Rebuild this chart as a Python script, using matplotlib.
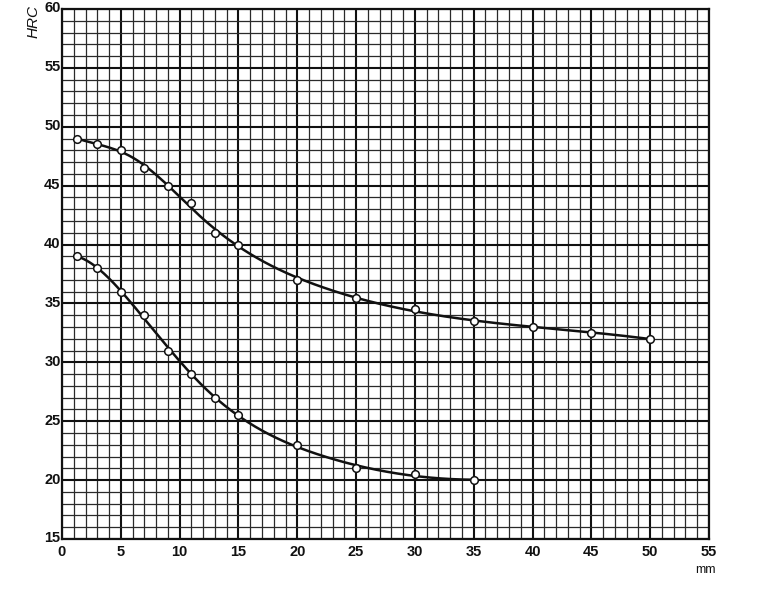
import numpy as np
import matplotlib
matplotlib.use('Agg')
import matplotlib.pyplot as plt
import matplotlib.transforms as mtransforms
from matplotlib.ticker import MultipleLocator

# data (depth in mm, hardness HRC)
x_upper = [1.3, 3, 5, 7, 9, 11, 13, 15, 20, 25, 30, 35, 40, 45, 50]
hrc_upper = [49.0, 48.5, 48.0, 46.5, 45.0, 43.5, 41.0, 40.0, 37.0, 35.5, 34.5, 33.5, 33.0, 32.5, 32.0]

x_lower = [1.3, 3, 5, 7, 9, 11, 13, 15, 20, 25, 30, 35]
hrc_lower = [39.0, 38.0, 36.0, 34.0, 31.0, 29.0, 27.0, 25.5, 23.0, 21.0, 20.5, 20.0]

x_ticks = [0, 5, 10, 15, 20, 25, 30, 35, 40, 45, 50, 55]
y_ticks = [15, 20, 25, 30, 35, 40, 45, 50, 55, 60]

plt.rcParams['font.family'] = ['Liberation Sans', 'DejaVu Sans']


def smooth_fit(xs, ys, xx, knots=(6, 12, 22)):
    # least squares cubic spline (truncated power basis) -> smooth drawn curve
    def basis(x):
        x = np.asarray(x, float)
        cols = [np.ones_like(x), x, x**2, x**3]
        cols += [np.clip(x - k, 0, None)**3 for k in knots]
        return np.column_stack(cols)
    coef, *_ = np.linalg.lstsq(basis(xs), np.asarray(ys, float), rcond=None)
    return basis(xx) @ coef


fig = plt.figure(figsize=(7.68, 5.94), dpi=100)
ax = fig.add_axes([62 / 768, 55 / 594, 647 / 768, 530 / 594])

ax.set_xlim(0, 55)
ax.set_ylim(15, 60)
ax.xaxis.set_minor_locator(MultipleLocator(1))
ax.yaxis.set_minor_locator(MultipleLocator(1))
ax.set_xticks(x_ticks)
ax.set_yticks(y_ticks)
ax.grid(which='minor', color='#2a2a2a', linewidth=0.9)
ax.grid(which='major', color='#111111', linewidth=1.5)
ax.set_axisbelow(True)
ax.tick_params(which='both', length=0, labelsize=10.5, colors='#111111')
ax.tick_params(axis='x', pad=4)
ax.tick_params(axis='y', pad=1)
shift = mtransforms.ScaledTranslation(0, 2 / 100, fig.dpi_scale_trans)
for lab in ax.get_yticklabels():
    lab.set_transform(lab.get_transform() + shift)
for lab in ax.get_xticklabels() + ax.get_yticklabels():
    lab.set_fontweight('bold')
for s in ax.spines.values():
    s.set_linewidth(1.6)
    s.set_color('#111111')

for xs, ys in [(x_upper, hrc_upper), (x_lower, hrc_lower)]:
    xx = np.linspace(xs[0], xs[-1], 400)
    ax.plot(xx, smooth_fit(xs, ys, xx), color='#111111', linewidth=1.8, zorder=3)
    ax.plot(xs, ys, 'o', markersize=5.5, markerfacecolor='white',
            markeredgecolor='#111111', markeredgewidth=1.1, zorder=4)

fig.text(34 / 768, 1 - 22 / 594, 'HRC', rotation=90, style='italic',
         ha='center', va='center', fontsize=11, color='#111111')
fig.text(705 / 768, 1 - 570 / 594, 'mm', ha='center', va='center',
         fontsize=9, color='#111111')

fig.savefig('out.png', dpi=100)
